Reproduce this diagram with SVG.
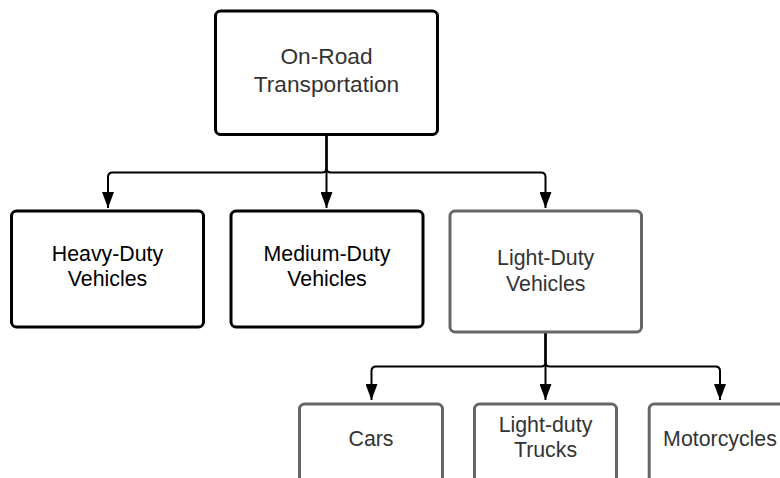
<svg xmlns="http://www.w3.org/2000/svg" width="780" height="478" viewBox="0 0 780 478">
<style>
.box{fill:#fff;stroke:#000;stroke-width:3}
.gbox{fill:#fff;stroke:#666;stroke-width:3}
.t{font-family:"Liberation Sans",Arial,sans-serif;fill:#333;text-anchor:middle;font-size:21.33px}
.k{fill:#000}
.tt{font-size:22.7px}
.c{fill:none;stroke:#000;stroke-width:2}
</style>
<defs>
<marker id="ah" viewBox="0 0 16 12" refX="16" refY="6" markerWidth="16" markerHeight="12" markerUnits="userSpaceOnUse" orient="auto">
<path d="M0,0 L16,6 L0,12 Z" fill="#000"/>
</marker>
</defs>
<rect width="780" height="478" fill="#fff"/>
<g id="connectors">
<path class="c" d="M326.5,136 V168 Q326.5,172.5 322,172.5 H112.5 Q108,172.5 108,177 V208" marker-end="url(#ah)"/>
<path class="c" d="M326.5,136 V208" marker-end="url(#ah)"/>
<path class="c" d="M326.5,136 V168 Q326.5,172.5 331,172.5 H541 Q545.5,172.5 545.5,177 V208" marker-end="url(#ah)"/>
<path class="c" d="M545.5,333 V362 Q545.5,366.5 541,366.5 H376 Q371.5,366.5 371.5,371 V400" marker-end="url(#ah)"/>
<path class="c" d="M545.5,333 V400" marker-end="url(#ah)"/>
<path class="c" d="M545.5,333 V362 Q545.5,366.5 550,366.5 H715.5 Q720,366.5 720,371 V400" marker-end="url(#ah)"/>
</g>
<g id="n-onroad">
<rect class="box" x="215.5" y="11" width="222" height="123.5" rx="5"/>
<text class="t tt" x="326.5" y="64">On-Road</text>
<text class="t tt" x="326.5" y="92">Transportation</text>
</g>
<g id="n-heavy">
<rect class="box" x="11.5" y="211" width="192" height="116" rx="5"/>
<text class="t k" x="107.5" y="261">Heavy-Duty</text>
<text class="t k" x="107.5" y="286">Vehicles</text>
</g>
<g id="n-medium">
<rect class="box" x="231" y="211" width="192" height="116" rx="5"/>
<text class="t k" x="327" y="261">Medium-Duty</text>
<text class="t k" x="327" y="286">Vehicles</text>
</g>
<g id="n-light">
<rect class="gbox" x="450" y="211" width="191.5" height="121" rx="5"/>
<text class="t" x="545.7" y="265">Light-Duty</text>
<text class="t" x="545.7" y="290.5">Vehicles</text>
</g>
<g id="n-cars">
<rect class="gbox" x="299.5" y="404" width="143" height="100" rx="5"/>
<text class="t" x="371" y="446">Cars</text>
</g>
<g id="n-trucks">
<rect class="gbox" x="474.5" y="404" width="142" height="100" rx="5"/>
<text class="t" x="545.5" y="432">Light-duty</text>
<text class="t" x="545.5" y="457.3">Trucks</text>
</g>
<g id="n-moto">
<rect class="gbox" x="649.2" y="404" width="142" height="100" rx="5"/>
<text class="t" x="720" y="446">Motorcycles</text>
</g>
</svg>
